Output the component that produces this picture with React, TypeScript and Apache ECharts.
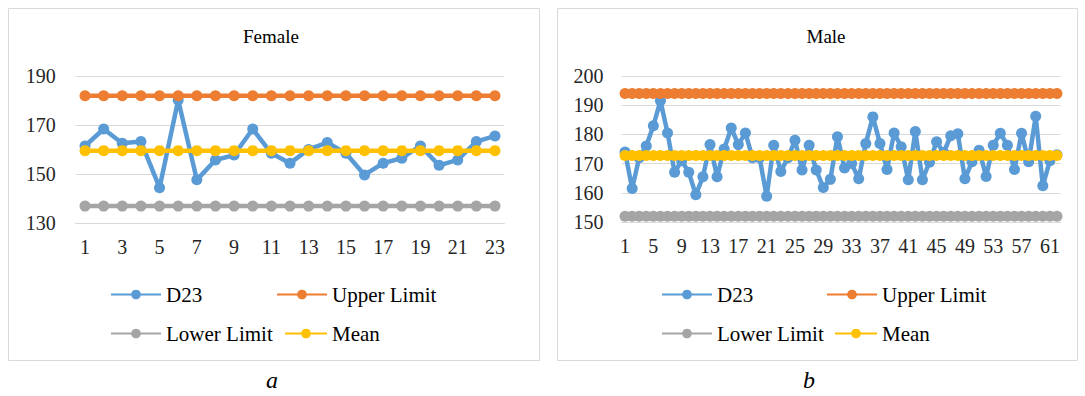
import React, { useEffect, useRef } from "react";
import * as echarts from "echarts";

// ---------- data ----------
const femaleCategories = Array.from({ length: 23 }, (_, i) => String(i + 1));
const femaleD23 = [
  161.5, 168.4, 162.6, 163.3, 144.5, 180.2, 147.7, 155.8, 157.8, 168.4, 158.5, 154.5,
  160.1, 162.9, 158.5, 149.7, 154.5, 156.5, 161.5, 153.6, 155.8, 163.3, 165.6,
];
const femaleUpper = 182;
const femaleLower = 137;
const femaleMean = 159.6;

const maleCategories = Array.from({ length: 62 }, (_, i) => String(i + 1));
const maleD23 = [
  174, 161.5, 172, 176, 183, 191.5, 180.5, 167, 171, 167, 159.3, 165.5, 176.5, 165.5, 175,
  182.2, 176.5, 180.5, 172, 172, 158.8, 176.3, 167.3, 172, 178, 167.8, 176.3, 167.8, 161.8,
  164.6, 179.2, 168.5, 170, 164.8, 176.9, 186, 176.9, 168, 180.5, 175.8, 164.5, 181,
  164.5, 170.5, 177.5, 173.8, 179.5, 180.2, 164.8, 170.6, 174.6, 165.6, 176.3, 180.4,
  176.3, 168, 180.4, 170.6, 186.2, 162.4, 171, 173,
];
const maleUpper = 194;
const maleLower = 152;
const maleMean = 172.8;

const seriesNames = ["D23", "Upper Limit", "Lower Limit", "Mean"];
const seriesColors = ["#5B9BD5", "#ED7D31", "#A5A5A5", "#FFC000"];

const FONT = "Liberation Serif";

function fill(n: number, v: number) {
  return Array.from({ length: n }, () => v);
}

export default function App() {
  const ref = useRef<HTMLDivElement>(null);
  useEffect(() => {
    if (!ref.current) return;
    const chart = echarts.init(ref.current, undefined, { renderer: "svg" });

    const makeSeries = (gridIndex: number, d: number[], up: number, lo: number, mean: number) => {
      const vals = [d, fill(d.length, up), fill(d.length, lo), fill(d.length, mean)];
      return vals.map((data, i) => ({
        type: "line",
        name: seriesNames[i],
        xAxisIndex: gridIndex,
        yAxisIndex: gridIndex,
        data,
        symbol: "circle",
        symbolSize: 11,
        showSymbol: true,
        showAllSymbol: true,
        color: seriesColors[i],
        lineStyle: { width: 4.5, color: seriesColors[i] },
        itemStyle: { color: seriesColors[i] },
      }));
    };

    const legendText = { fontFamily: FONT, fontSize: 21, color: "#000" };
    const mkLegend = (name: string, left: number, top: number, w = 50) => ({
      data: [name],
      left,
      top,
      padding: 0,
      itemWidth: w,
      itemHeight: 12,
      itemGap: 0,
      textStyle: legendText,
      selectedMode: false,
    });

    const axisLabel = { fontFamily: FONT, fontSize: 20, color: "#262626" };
    const titleStyle = { fontFamily: FONT, fontSize: 19, fontWeight: "normal", color: "#000" };

    chart.setOption({
      animation: false,
      backgroundColor: "#fff",
      textStyle: { fontFamily: FONT },
      title: [
        { text: "Female", left: 271, top: 27, textAlign: "center", padding: 0, textStyle: titleStyle },
        { text: "Male", left: 826, top: 27, textAlign: "center", padding: 0, textStyle: titleStyle },
      ],
      grid: [
        { left: 75.7, top: 76, width: 428.6, height: 147.3 },
        { left: 621.5, top: 76, width: 439, height: 146 },
      ],
      xAxis: [
        {
          type: "category",
          gridIndex: 0,
          data: femaleCategories,
          boundaryGap: true,
          axisLine: { show: true, lineStyle: { color: "#d9d9d9", width: 1 } },
          axisTick: { show: false },
          axisLabel: { ...axisLabel, interval: 1, margin: 14 },
        },
        {
          type: "category",
          gridIndex: 1,
          data: maleCategories,
          boundaryGap: true,
          axisLine: { show: true, lineStyle: { color: "#d9d9d9", width: 1 } },
          axisTick: { show: false },
          axisLabel: { ...axisLabel, interval: 3, margin: 14 },
        },
      ],
      yAxis: [
        {
          type: "value",
          gridIndex: 0,
          min: 130,
          max: 190,
          interval: 20,
          axisLine: { show: false },
          axisTick: { show: false },
          splitLine: { lineStyle: { color: "#d9d9d9", width: 1 } },
          axisLabel: { ...axisLabel, margin: 20 },
        },
        {
          type: "value",
          gridIndex: 1,
          min: 150,
          max: 200,
          interval: 10,
          axisLine: { show: false },
          axisTick: { show: false },
          splitLine: { lineStyle: { color: "#d9d9d9", width: 1 } },
          axisLabel: { ...axisLabel, margin: 18 },
        },
      ],
      legend: [
        mkLegend("D23", 110, 284),
        mkLegend("Upper Limit", 276, 284),
        mkLegend("Lower Limit", 110, 323),
        mkLegend("Mean", 284, 323, 42),
        mkLegend("D23", 661, 284),
        mkLegend("Upper Limit", 826, 284),
        mkLegend("Lower Limit", 661, 323),
        mkLegend("Mean", 834, 323, 42),
      ],
      graphic: [
        { type: "rect", shape: { x: 8.5, y: 8.5, width: 531, height: 352 }, style: { fill: "none", stroke: "#d9d9d9", lineWidth: 1 }, silent: true, z: -1 },
        { type: "rect", shape: { x: 557.5, y: 8.5, width: 520, height: 352 }, style: { fill: "none", stroke: "#d9d9d9", lineWidth: 1 }, silent: true, z: -1 },
        { type: "text", left: 266, top: 368, style: { text: "a", fontFamily: FONT, fontSize: 24, fontStyle: "italic", fill: "#000" } },
        { type: "text", left: 803, top: 368, style: { text: "b", fontFamily: FONT, fontSize: 24, fontStyle: "italic", fill: "#000" } },
      ],
      series: [
        ...makeSeries(0, femaleD23, femaleUpper, femaleLower, femaleMean),
        ...makeSeries(1, maleD23, maleUpper, maleLower, maleMean),
      ],
    });
    return () => chart.dispose();
  }, []);
  return (
    <div
      ref={ref}
      style={{ position: "fixed", left: 0, top: 0, width: 1085, height: 396, background: "#fff" }}
    />
  );
}
